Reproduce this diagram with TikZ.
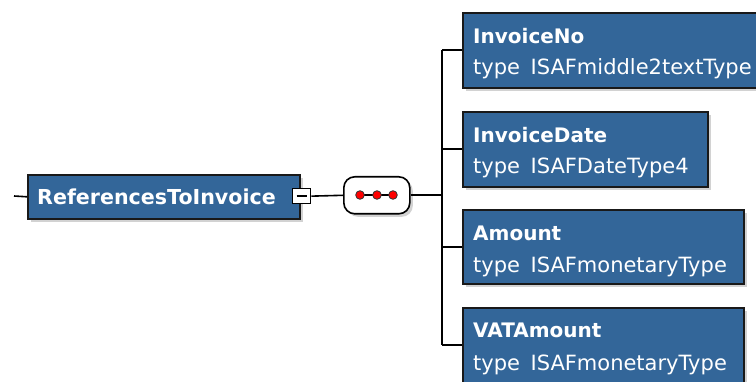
\documentclass[tikz,border=0pt]{standalone}
\usepackage{fontspec}
\setmainfont{DejaVu Sans}
\usetikzlibrary{shadows,calc}
\definecolor{boxblue}{RGB}{51,102,153}
\begin{document}
\begin{tikzpicture}[x=1pt,y=-1pt,
  shadowed/.style={drop shadow={shadow xshift=3pt,shadow yshift=-3pt,fill=black!35}},
  elbox/.style={draw=black!90, line width=1.6pt, fill=boxblue, shadowed, anchor=north west, inner sep=0pt},
  nametxt/.style={anchor=base west, text=white, font=\fontsize{20}{22}\selectfont\bfseries, inner sep=0pt},
  typetxt/.style={anchor=base west, text=white, font=\fontsize{21}{23}\selectfont, inner sep=0pt},
  conn/.style={draw=black, line width=1.6pt}]
\useasboundingbox (0,0) rectangle (756,382);
\clip (0,0) rectangle (756,382);
\fill[white] (0,0) rectangle (756,382);
% main element
\node[elbox, minimum width=272pt, minimum height=44pt] (main) at (27,174) {};
\node[nametxt, font=\fontsize{20.6}{22}\selectfont\bfseries] (maintxt) at (37,205) {ReferencesToInvoice};
\node[draw=black, fill=white, line width=1.3pt, minimum width=18pt, minimum height=15pt, anchor=north west, inner sep=0pt] (minus) at (292,188) {};
\draw[line width=1.3pt] ($(minus.center)+(-5,0)$) -- ($(minus.center)+(5,0)$);
% sequence compositor
\node[draw=black, fill=white, rounded corners=11pt, line width=1.6pt, minimum width=66pt, minimum height=37pt, anchor=north west, inner sep=0pt, shadowed] (seq) at (343,176) {};
\coordinate (d1) at (360,195);
\coordinate (d2) at (377,195);
\coordinate (d3) at (393,195);
\draw[line width=1.6pt] (d1) -- (d3);
\foreach \d in {d1,d2,d3} \filldraw[fill=red, draw=black!80, line width=0.8pt] (\d) circle (4.3pt);
% children
\node[elbox, minimum width=310pt, minimum height=75pt] (c1) at (462,12) {};
\node[nametxt] (c1n) at (473,44) {InvoiceNo};
\node[typetxt] (c1t) at (473,75) {type\enspace ISAFmiddle2textType};
\node[elbox, minimum width=245pt, minimum height=75pt] (c2) at (462,111) {};
\node[nametxt] (c2n) at (473,143) {InvoiceDate};
\node[typetxt] (c2t) at (473,174) {type\enspace ISAFDateType4};
\node[elbox, minimum width=281pt, minimum height=74pt] (c3) at (462,209) {};
\node[nametxt] (c3n) at (473,241) {Amount};
\node[typetxt] (c3t) at (473,273) {type\enspace ISAFmonetaryType};
\node[elbox, minimum width=281pt, minimum height=75pt] (c4) at (462,307) {};
\node[nametxt] (c4n) at (473,338) {VATAmount};
\node[typetxt] (c4t) at (473,371) {type\enspace ISAFmonetaryType};
% connectors
\coordinate (in) at (14,196);
\coordinate (bus) at (442,196);
\draw[conn] (in) -- (main.west);
\draw[conn] (minus.east) -- (seq.west);
\draw[conn] (seq.east) -- (seq.east -| bus);
\draw[conn] (c1.west -| bus) -- (c4.west -| bus);
\foreach \c in {c1,c2,c3,c4} \draw[conn] (\c.west -| bus) -- (\c.west);
\end{tikzpicture}
\end{document}
